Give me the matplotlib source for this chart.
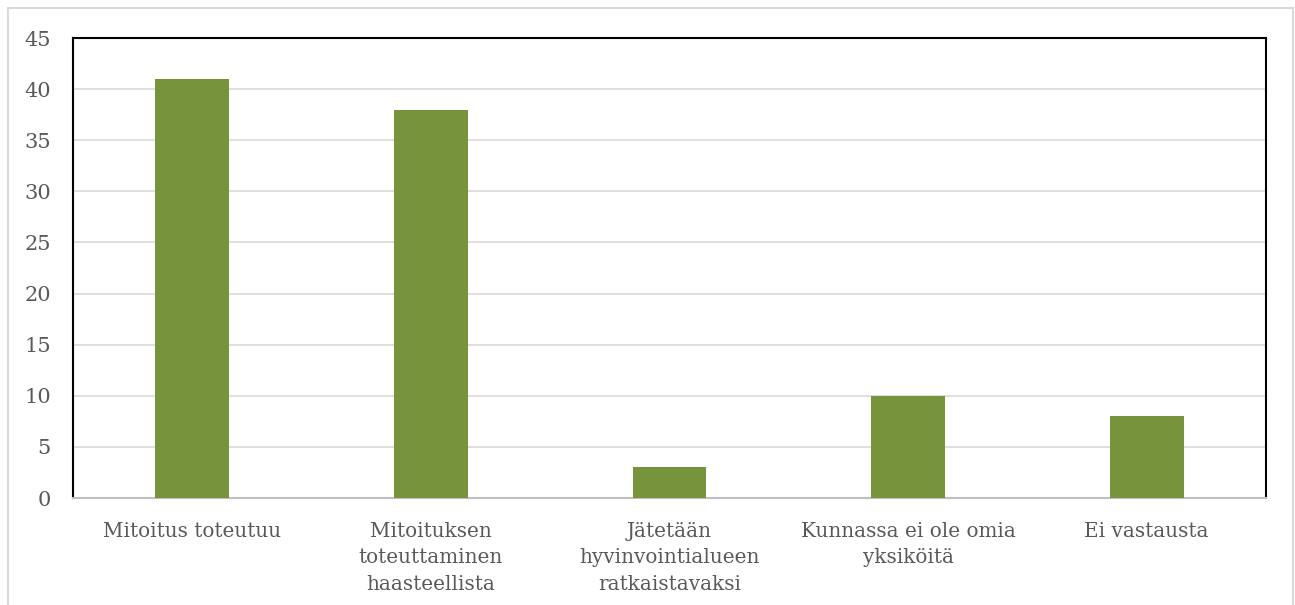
import matplotlib
matplotlib.use('Agg')
import matplotlib.pyplot as plt
from matplotlib.patches import Rectangle

plt.rcParams['font.family'] = ['DejaVu Serif']

categories = ['Mitoitus toteutuu', 'Mitoituksen\ntoteuttaminen\nhaasteellista',
              'Jätetään\nhyvinvointialueen\nratkaistavaksi',
              'Kunnassa ei ole omia\nyksiköitä', 'Ei vastausta']
values = [41, 38, 3, 10, 8]
yticks = [0, 5, 10, 15, 20, 25, 30, 35, 40, 45]

GREEN = '#77933C'
TXT = '#595959'

fig = plt.figure(figsize=(12.95, 6.05), dpi=100)
W, H = 1295, 605
ax = fig.add_axes([73 / W, 1 - 498 / H, (1266 - 73) / W, (498 - 38) / H])

x = range(len(categories))
ax.bar(x, values, width=0.31, color=GREEN, zorder=3)
ax.set_xlim(-0.5, len(categories) - 0.5)
ax.set_ylim(0, 45)
ax.set_yticks(yticks)
ax.set_xticks(list(x))
ax.set_xticklabels(categories, fontsize=14.4, color=TXT, linespacing=1.52)
ax.tick_params(axis='y', labelsize=15, labelcolor=TXT, length=0, pad=16)
ax.tick_params(axis='x', length=0, pad=17)
ax.grid(axis='y', color='#D9D9D9', linewidth=1.2, zorder=0)
ax.set_axisbelow(True)

for s in ['left', 'top', 'right']:
    ax.spines[s].set_color('black')
    ax.spines[s].set_linewidth(1.5)
ax.spines['bottom'].set_color('#BFBFBF')
ax.spines['bottom'].set_linewidth(1.5)

# light outer frame of the chart
fig.patches.append(Rectangle((8 / W, -0.05), (1293 - 8) / W, 1.05 - 8 / H,
                             transform=fig.transFigure, fill=False,
                             edgecolor='#D9D9D9', linewidth=1.5))

fig.savefig('out.png', dpi=100)
